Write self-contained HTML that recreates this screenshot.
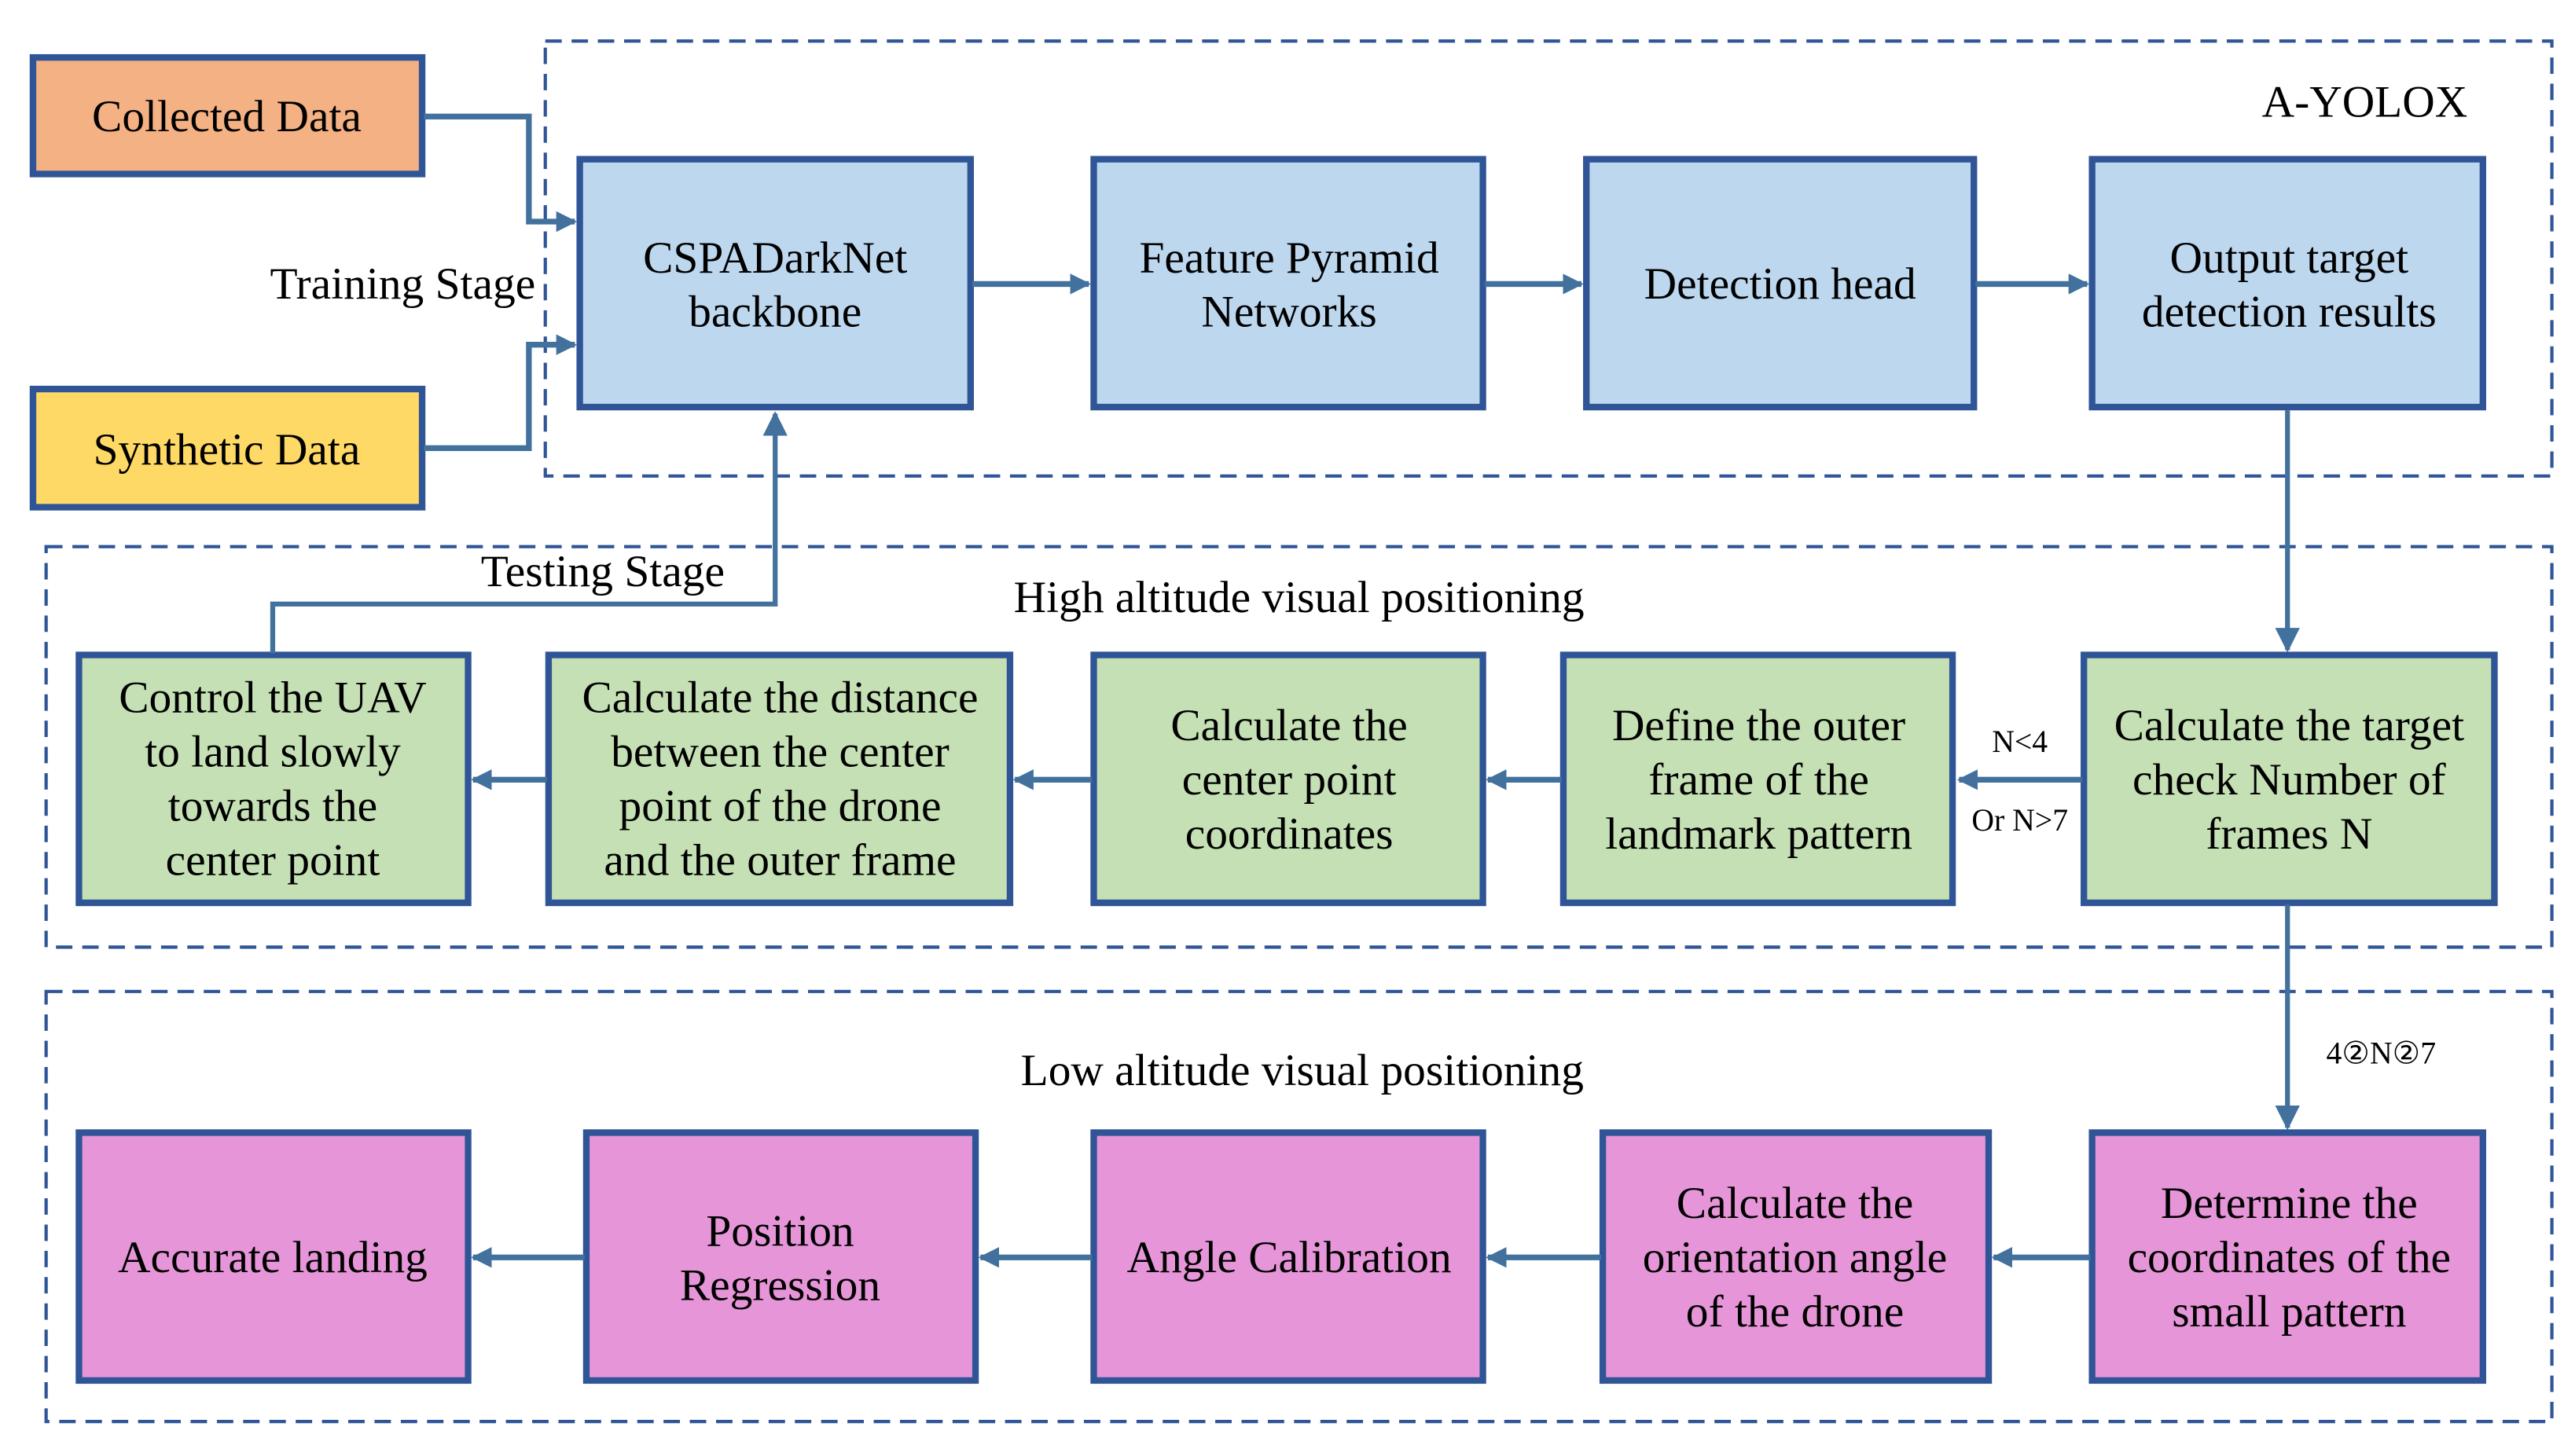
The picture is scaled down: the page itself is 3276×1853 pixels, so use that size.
<!DOCTYPE html>
<html><head><meta charset="utf-8"><style>
html,body{margin:0;padding:0;background:#fff;}
svg{display:block;}
text{font-family:"Liberation Serif",serif;fill:#000;}
</style></head><body>
<svg width="3276" height="1853" viewBox="0 0 1568 887" xmlns="http://www.w3.org/2000/svg">
<defs>
<marker id="a" viewBox="0 0 10 10" refX="9" refY="5" markerWidth="3.6" markerHeight="3.6" orient="auto" markerUnits="strokeWidth">
<path d="M0,0 L10,5 L0,10 z" fill="#41719C"/></marker>
<marker id="b" viewBox="0 0 10 10" refX="9" refY="5" markerWidth="5" markerHeight="5" orient="auto" markerUnits="strokeWidth">
<path d="M0,0 L10,5 L0,10 z" fill="#41719C"/></marker>
</defs>
<g fill="none" stroke="#2F5597" stroke-width="2" stroke-dasharray="10,6">
<rect x="332" y="25" width="1222" height="265"/>
<rect x="28" y="333" width="1526" height="244"/>
<rect x="28" y="604" width="1526" height="262"/>
</g>
<g stroke="#2F5597" stroke-width="4">
<rect x="20" y="35" width="237" height="71" fill="#F4B183"/>
<rect x="20" y="237" width="237" height="72" fill="#FFD966"/>
<g fill="#BDD7EE">
<rect x="353" y="97" width="238" height="151"/>
<rect x="666" y="97" width="237" height="151"/>
<rect x="966" y="97" width="236" height="151"/>
<rect x="1274" y="97" width="238" height="151"/>
</g>
<g fill="#C5E0B4">
<rect x="48" y="399" width="237" height="151"/>
<rect x="334" y="399" width="281" height="151"/>
<rect x="666" y="399" width="237" height="151"/>
<rect x="952" y="399" width="237" height="151"/>
<rect x="1269" y="399" width="250" height="151"/>
</g>
<g fill="#E696D8">
<rect x="48" y="690" width="237" height="151"/>
<rect x="357" y="690" width="237" height="151"/>
<rect x="666" y="690" width="237" height="151"/>
<rect x="976" y="690" width="235" height="151"/>
<rect x="1274" y="690" width="238" height="151"/>
</g>
</g>
<g fill="none" stroke="#41719C" stroke-width="3.5">
<polyline points="258,71 322,71 322,135 350,135" marker-end="url(#a)"/>
<polyline points="258,273 322,273 322,210 350,210" marker-end="url(#a)"/>
<line x1="592" y1="173" x2="663" y2="173" marker-end="url(#a)"/>
<line x1="904" y1="173" x2="963" y2="173" marker-end="url(#a)"/>
<line x1="1203" y1="173" x2="1271" y2="173" marker-end="url(#a)"/>
<line x1="1393" y1="250" x2="1393" y2="396" stroke-width="3" marker-end="url(#b)"/>
<line x1="1393" y1="551" x2="1393" y2="687" stroke-width="3" marker-end="url(#b)"/>
<line x1="1268" y1="475" x2="1193" y2="475" marker-end="url(#a)"/>
<line x1="951" y1="475" x2="906" y2="475" marker-end="url(#a)"/>
<line x1="665" y1="475" x2="618" y2="475" marker-end="url(#a)"/>
<line x1="333" y1="475" x2="288" y2="475" marker-end="url(#a)"/>
<polyline points="166,398 166,368 472,368 472,252" stroke-width="3" marker-end="url(#b)"/>
<line x1="1273" y1="766" x2="1214" y2="766" marker-end="url(#a)"/>
<line x1="975" y1="766" x2="906" y2="766" marker-end="url(#a)"/>
<line x1="665" y1="766" x2="597" y2="766" marker-end="url(#a)"/>
<line x1="356" y1="766" x2="288" y2="766" marker-end="url(#a)"/>
</g>
<g font-size="27.5" text-anchor="middle">
<text x="138" y="80">Collected Data</text>
<text x="138" y="283">Synthetic Data</text>
<text x="326" y="182" text-anchor="end">Training Stage</text>
<text x="1440" y="71">A-YOLOX</text>
<text x="472" y="166">CSPADarkNet</text><text x="472" y="199">backbone</text>
<text x="785" y="166">Feature Pyramid</text><text x="785" y="199">Networks</text>
<text x="1084" y="182">Detection head</text>
<text x="1394" y="166">Output target</text><text x="1394" y="199">detection results</text>
<text x="367" y="357">Testing Stage</text>
<text x="791" y="373">High altitude visual positioning</text>
<text x="166" y="434">Control the UAV</text><text x="166" y="467">to land slowly</text><text x="166" y="500">towards the</text><text x="166" y="533">center point</text>
<text x="475" y="434">Calculate the distance</text><text x="475" y="467">between the center</text><text x="475" y="500">point of the drone</text><text x="475" y="533">and the outer frame</text>
<text x="785" y="451">Calculate the</text><text x="785" y="484">center point</text><text x="785" y="517">coordinates</text>
<text x="1071" y="451">Define the outer</text><text x="1071" y="484">frame of the</text><text x="1071" y="517">landmark pattern</text>
<text x="1394" y="451">Calculate the target</text><text x="1394" y="484">check Number of</text><text x="1394" y="517">frames N</text>
<text x="793" y="661">Low altitude visual positioning</text>
<text x="166" y="775">Accurate landing</text>
<text x="475" y="759">Position</text><text x="475" y="792">Regression</text>
<text x="785" y="775">Angle Calibration</text>
<text x="1093" y="742">Calculate the</text><text x="1093" y="775">orientation angle</text><text x="1093" y="808">of the drone</text>
<text x="1394" y="742">Determine the</text><text x="1394" y="775">coordinates of the</text><text x="1394" y="808">small pattern</text>
</g>
<g font-size="19" text-anchor="middle">
<text x="1230" y="458">N&lt;4</text>
<text x="1230" y="506">Or N&gt;7</text>
<text x="1450" y="648">4②N②7</text>
</g>
</svg>
</body></html>
